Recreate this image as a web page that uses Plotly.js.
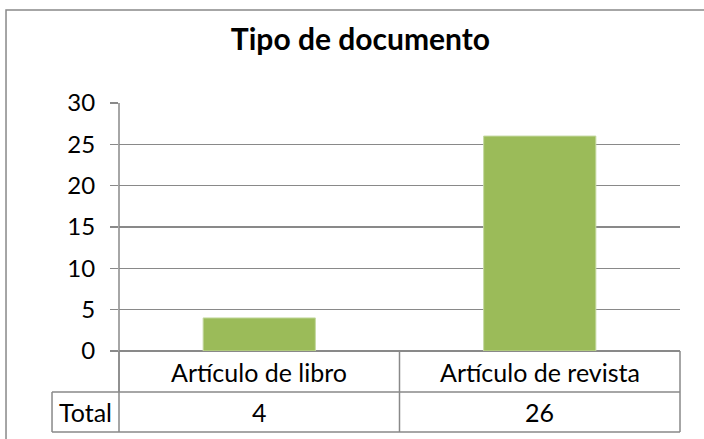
<!DOCTYPE html>
<html>
<head>
<meta charset="utf-8">
<script src="https://cdn.plot.ly/plotly-3.0.1.min.js"></script>
<style>html,body{margin:0;padding:0;background:#fff;}#chart{width:704px;height:439px;}</style>
</head>
<body>
<div id="chart"></div>
<script>
const categories = ["Artículo de libro", "Artículo de revista"];
const values = [4, 26];
const seriesName = "Total";
const chartTitle = "Tipo de documento";
const yTicks = [0, 5, 10, 15, 20, 25, 30];

const FONT = "Lato, 'Open Sans', sans-serif";
const GRID = "#898989";
const hdrY = -0.0827, valY = -0.246, rowSep = -0.1653, tblBot = -0.3266, tblLeft = -0.1194;

const annotations = [];
categories.forEach((c, i) => {
  annotations.push({x: c, xref: "x", y: hdrY, yref: "paper", text: c, showarrow: false,
    xanchor: "center", yanchor: "middle", font: {family: FONT, size: 25, color: "#000"}});
  annotations.push({x: c, xref: "x", y: valY, yref: "paper", text: String(values[i]), showarrow: false,
    xanchor: "center", yanchor: "middle", font: {family: FONT, size: 25, color: "#000"}});
});
annotations.push({x: (tblLeft) / 2, xref: "paper", y: valY, yref: "paper", text: seriesName, showarrow: false,
  xanchor: "center", yanchor: "middle", font: {family: FONT, size: 25, color: "#000"}});

const L = (x0, y0, x1, y1, w) => ({type: "line", xref: "paper", yref: "paper", x0, y0, x1, y1,
  line: {color: GRID, width: w || 1.5}});
const shapes = [
  // outer chart border
  {type: "rect", xref: "paper", yref: "paper", x0: -0.2014, y0: -0.45, x1: 1.25, y1: 1.375,
   line: {color: GRID, width: 1.5}, fillcolor: "rgba(0,0,0,0)", layer: "below"},
  // y axis line extending into header row
  L(0, 1, 0, rowSep),
  // table lines
  L(0, 0, 0, tblBot),
  L(0.5, 0, 0.5, tblBot),
  L(1, 0, 1, tblBot),
  L(tblLeft, rowSep, 1, rowSep),
  L(tblLeft, tblBot, 1, tblBot),
  L(tblLeft, rowSep, tblLeft, tblBot)
];

const data = [{
  type: "bar", x: categories, y: values, name: seriesName,
  marker: {color: "#9BBB59", line: {color: "#c4d9a0", width: 1}},
  hoverinfo: "skip"
}];

const layout = {
  width: 704, height: 439,
  margin: {l: 119, r: 24, t: 103, b: 88, pad: 0},
  paper_bgcolor: "#fff", plot_bgcolor: "#fff",
  showlegend: false,
  bargap: 0.6,
  title: {text: "<b>" + chartTitle + "</b>", x: 0.512, xanchor: "center", y: 1 - 39 / 439, yanchor: "middle",
    font: {family: FONT, size: 30, color: "#000"}},
  xaxis: {type: "category", showticklabels: false, showgrid: false, zeroline: false, showline: false,
    ticks: "", fixedrange: true},
  yaxis: {range: [0, 30], tickvals: yTicks, ticktext: yTicks.map(String), showgrid: true, gridcolor: GRID, gridwidth: 1.5,
    zeroline: true, zerolinecolor: GRID, zerolinewidth: 1.5, showline: false,
    ticks: "outside", ticklen: 8, tickcolor: GRID, tickwidth: 1.5, ticklabelstandoff: 10,
    tickfont: {family: FONT, size: 24, color: "#000"}, fixedrange: true},
  annotations, shapes
};

Plotly.newPlot("chart", data, layout, {displayModeBar: false, staticPlot: true});
</script>
</body>
</html>
